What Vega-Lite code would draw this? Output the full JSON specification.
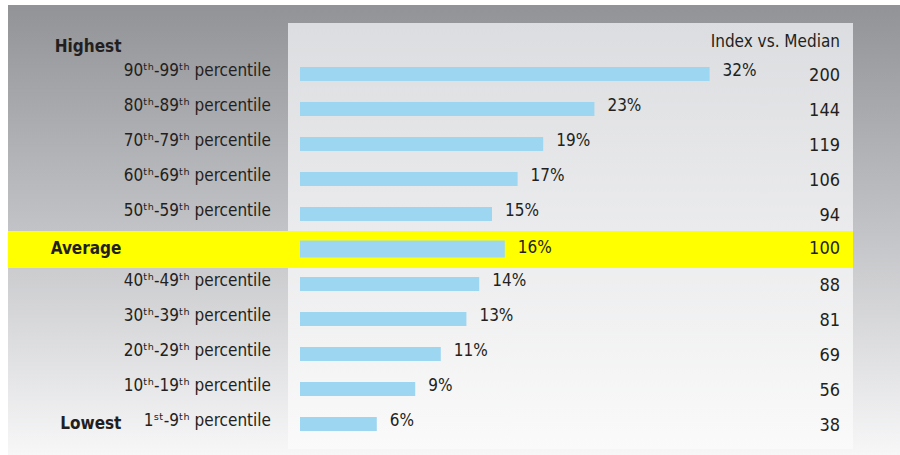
{
  "$schema": "https://vega.github.io/schema/vega-lite/v6.json",
  "width": 900,
  "height": 455,
  "autosize": {"type": "none"},
  "padding": 0,
  "background": "#ffffff",
  "config": {
    "view": {"stroke": null},
    "text": {"font": "DejaVu Sans Condensed", "fontSize": 17, "color": "#231f20"}
  },
  "datasets": {
    "rows": [
      {"label": "90ᵗʰ-99ᵗʰ percentile", "pct": 0.32, "index": 200, "row": 1, "kind": "band"},
      {"label": "80ᵗʰ-89ᵗʰ percentile", "pct": 0.23, "index": 144, "row": 2, "kind": "band"},
      {"label": "70ᵗʰ-79ᵗʰ percentile", "pct": 0.19, "index": 119, "row": 3, "kind": "band"},
      {"label": "60ᵗʰ-69ᵗʰ percentile", "pct": 0.17, "index": 106, "row": 4, "kind": "band"},
      {"label": "50ᵗʰ-59ᵗʰ percentile", "pct": 0.15, "index": 94, "row": 5, "kind": "band"},
      {"label": "", "pct": 0.16, "index": 100, "row": 6, "kind": "average"},
      {"label": "40ᵗʰ-49ᵗʰ percentile", "pct": 0.14, "index": 88, "row": 7, "kind": "band"},
      {"label": "30ᵗʰ-39ᵗʰ percentile", "pct": 0.13, "index": 81, "row": 8, "kind": "band"},
      {"label": "20ᵗʰ-29ᵗʰ percentile", "pct": 0.11, "index": 69, "row": 9, "kind": "band"},
      {"label": "10ᵗʰ-19ᵗʰ percentile", "pct": 0.09, "index": 56, "row": 10, "kind": "band"},
      {"label": "1ˢᵗ-9ᵗʰ percentile", "pct": 0.06, "index": 38, "row": 11, "kind": "band"}
    ],
    "tiers": [
      {"tier": "Average", "row": 6},
      {"tier": "Lowest", "row": 11}
    ]
  },
  "data": {"name": "rows"},
  "encoding": {
    "x": {"type": "quantitative", "scale": {"domain": [-0.234375, 0.46875], "nice": false, "zero": false, "padding": 0}, "axis": null},
    "y": {"type": "quantitative", "scale": {"domain": [-1.1143, 11.8857], "nice": false, "zero": false, "reverse": true, "padding": 0}, "axis": null}
  },
  "layer": [
    {
      "data": {"values": [{}]},
      "mark": {"type": "rect", "fill": {"gradient": "linear", "x1": 0, "y1": 0, "x2": 0, "y2": 1, "stops": [{"offset": 0, "color": "#929397"}, {"offset": 0.5, "color": "#c2c3c6"}, {"offset": 1, "color": "#f7f7f8"}]}},
      "encoding": {"x": {"datum": -0.228125}, "x2": {"datum": 0.46875}, "y": {"datum": -0.9714}, "y2": {"datum": 11.8857}}
    },
    {
      "data": {"values": [{}]},
      "mark": {"type": "rect", "fill": {"gradient": "linear", "x1": 0, "y1": 0, "x2": 0, "y2": 1, "stops": [{"offset": 0, "color": "#dcdde0"}, {"offset": 1, "color": "#fafafa"}]}},
      "encoding": {"x": {"datum": -0.009375}, "x2": {"datum": 0.43203}, "y": {"datum": -0.457}, "y2": {"datum": 11.714}}
    },
    {
      "data": {"values": [{}]},
      "mark": {"type": "rect", "fill": "#ffff00"},
      "encoding": {"x": {"datum": -0.228125}, "x2": {"datum": 0.43203}, "y": {"datum": 5.486}, "y2": {"datum": 6.543}}
    },
    {
      "transform": [{"filter": "datum.kind === 'band'"}],
      "mark": {"type": "bar", "orient": "horizontal", "color": "#9dd6f1", "size": 14},
      "encoding": {"x": {"field": "pct"}, "x2": {"datum": 0}, "y": {"field": "row"}}
    },
    {
      "transform": [{"filter": "datum.kind === 'average'"}],
      "mark": {"type": "bar", "orient": "horizontal", "color": "#9dd6f1", "size": 17},
      "encoding": {"x": {"field": "pct"}, "x2": {"datum": 0}, "y": {"field": "row"}}
    },
    {
      "transform": [{"filter": "datum.kind === 'band'"}],
      "mark": {"type": "text", "align": "left", "baseline": "middle", "dx": 13, "dy": -3},
      "encoding": {"x": {"field": "pct"}, "y": {"field": "row"}, "text": {"field": "pct", "format": ".0%"}}
    },
    {
      "transform": [{"filter": "datum.kind === 'average'"}],
      "mark": {"type": "text", "align": "left", "baseline": "middle", "dx": 13, "dy": -1},
      "encoding": {"x": {"field": "pct"}, "y": {"field": "row"}, "text": {"field": "pct", "format": ".0%"}}
    },
    {
      "transform": [{"filter": "datum.kind === 'band'"}],
      "mark": {"type": "text", "align": "right", "baseline": "middle", "dy": 2, "fontSize": 18},
      "encoding": {"x": {"datum": 0.421875}, "y": {"field": "row"}, "text": {"field": "index"}}
    },
    {
      "transform": [{"filter": "datum.kind === 'average'"}],
      "mark": {"type": "text", "align": "right", "baseline": "middle", "dy": 0, "fontSize": 18},
      "encoding": {"x": {"datum": 0.421875}, "y": {"field": "row"}, "text": {"field": "index"}}
    },
    {
      "transform": [{"filter": "datum.kind === 'band'"}],
      "mark": {"type": "text", "align": "right", "baseline": "middle", "dy": -3},
      "encoding": {"x": {"datum": -0.02266}, "y": {"field": "row"}, "text": {"field": "label"}}
    },
    {
      "data": {"name": "tiers"},
      "mark": {"type": "text", "align": "right", "baseline": "middle", "fontWeight": "bold", "dy": 0},
      "encoding": {"x": {"datum": -0.1395}, "y": {"field": "row"}, "text": {"field": "tier"}}
    },
    {
      "data": {"values": [{"tier": "Highest"}]},
      "mark": {"type": "text", "align": "right", "baseline": "middle", "fontWeight": "bold"},
      "encoding": {"x": {"datum": -0.1395}, "y": {"datum": 0.229}, "text": {"field": "tier"}}
    },
    {
      "data": {"values": [{"title": "Index vs. Median"}]},
      "mark": {"type": "text", "align": "right", "baseline": "middle"},
      "encoding": {"x": {"datum": 0.421875}, "y": {"datum": 0.086}, "text": {"field": "title"}}
    }
  ]
}
